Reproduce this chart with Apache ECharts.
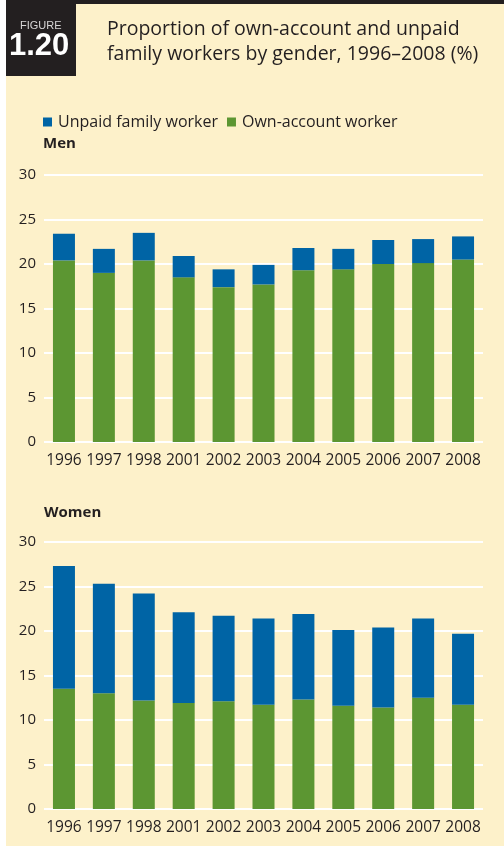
<!DOCTYPE html>
<html><head><meta charset="utf-8">
<script src="https://cdn.jsdelivr.net/npm/echarts@6/dist/echarts.min.js"></script>
<style>html,body{margin:0;padding:0;background:#fff}#c{width:504px;height:848px}</style>
</head><body><div id="c"></div>
<script>
const years = ['1996','1997','1998','2001','2002','2003','2004','2005','2006','2007','2008'];
const menOwn = [20.4, 19.0, 20.4, 18.5, 17.4, 17.7, 19.3, 19.4, 20.0, 20.1, 20.5];
const menUnpaid = [3.0, 2.7, 3.1, 2.4, 2.0, 2.2, 2.5, 2.3, 2.7, 2.7, 2.6];
const womenOwn = [13.5, 13.0, 12.2, 11.9, 12.1, 11.7, 12.3, 11.6, 11.4, 12.5, 11.7];
const womenUnpaid = [13.8, 12.3, 12.0, 10.2, 9.6, 9.7, 9.6, 8.5, 9.0, 8.9, 8.0];
const yTicks = [0, 5, 10, 15, 20, 25, 30];

const FONT = '"Open Sans", "Noto Sans", sans-serif';
const TXT = '#231F20';
const BLUE = '#0064A5';
const GREEN = '#5C9632';
const BG = '#FDF1CA';

const chart = echarts.init(document.getElementById('c'), null, {renderer: 'canvas'});

function xAx(gi) {
  return {
    type: 'category', gridIndex: gi, data: years,
    axisLine: {show: false}, axisTick: {show: false},
    axisLabel: {interval: 0, color: TXT, fontFamily: FONT, fontSize: 15.5, margin: 11, hideOverlap: false}
  };
}
function yAx(gi) {
  return {
    type: 'value', gridIndex: gi, min: yTicks[0], max: yTicks[yTicks.length - 1], interval: 5,
    axisLine: {show: false}, axisTick: {show: false},
    axisLabel: {color: TXT, fontFamily: FONT, fontSize: 15, margin: 8},
    splitLine: {show: true, lineStyle: {color: '#ffffff', width: 2}}
  };
}
function bar(name, data, gi, stack, color) {
  return {
    name: name, type: 'bar', xAxisIndex: gi, yAxisIndex: gi, stack: stack,
    data: data, barWidth: 22, itemStyle: {color: color}, z: 3
  };
}

chart.setOption({
  animation: false,
  backgroundColor: '#ffffff',
  graphic: [
    {type: 'rect', shape: {x: 6, y: 0, width: 498, height: 846}, style: {fill: BG}, z: -10},
    {type: 'rect', shape: {x: 6, y: 0, width: 498, height: 4}, style: {fill: TXT}, z: -9},
    {type: 'rect', shape: {x: 6, y: 0, width: 70, height: 76}, style: {fill: TXT}, z: -9},
    {type: 'text', left: 20, top: 20, style: {text: 'FIGURE', fill: '#d8d6d6', font: '11px "Liberation Sans", Arial, sans-serif'}},
    {type: 'text', left: 9, top: 31, style: {text: '1.20', fill: '#ffffff', font: 'bold 31px "Liberation Sans", Arial, sans-serif'}},
    {type: 'text', left: 107, top: 17, style: {text: 'Proportion of own-account and unpaid\nfamily workers by gender, 1996\u20132008 (%)', fill: TXT, font: '19.5px ' + FONT, lineHeight: 25}},
    {type: 'text', left: 43, top: 136, style: {text: 'Men', fill: TXT, font: 'bold 15px ' + FONT}},
    {type: 'text', left: 44, top: 505, style: {text: 'Women', fill: TXT, font: 'bold 15px ' + FONT}}
  ],
  legend: {
    left: 38, top: 109, itemWidth: 9, itemHeight: 9, itemGap: 9, icon: 'rect',
    data: ['Unpaid family worker', 'Own-account worker'],
    textStyle: {color: TXT, fontFamily: FONT, fontSize: 16, padding: [0, 0, 0, 1]}
  },
  grid: [
    {left: 44, right: 21, top: 175, height: 267},
    {left: 44, right: 21, top: 542, height: 267}
  ],
  xAxis: [xAx(0), xAx(1)],
  yAxis: [yAx(0), yAx(1)],
  series: [
    bar('Own-account worker', menOwn, 0, 'm', GREEN),
    bar('Unpaid family worker', menUnpaid, 0, 'm', BLUE),
    bar('Own-account worker', womenOwn, 1, 'w', GREEN),
    bar('Unpaid family worker', womenUnpaid, 1, 'w', BLUE)
  ]
});
</script></body></html>
